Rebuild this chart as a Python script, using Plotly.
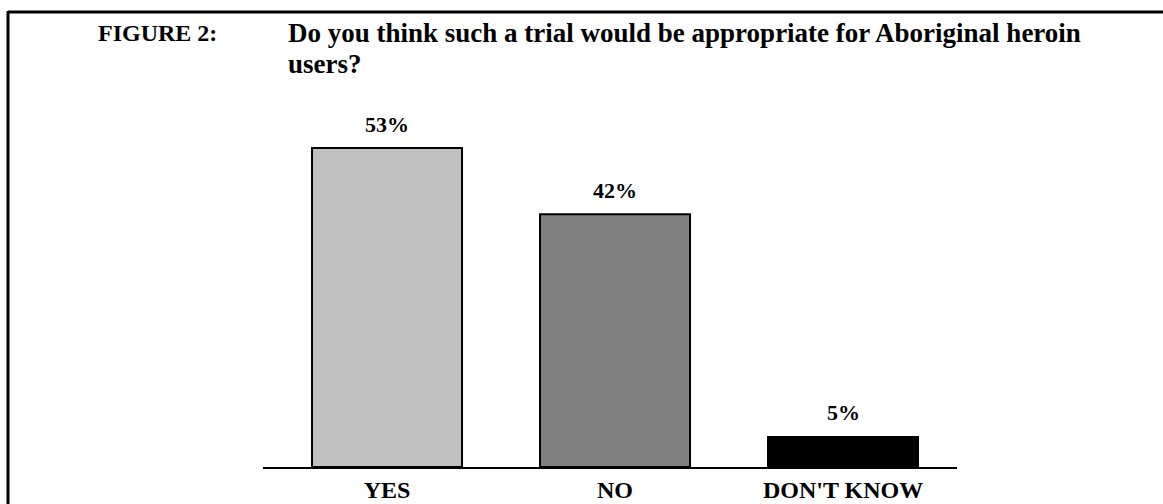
import plotly.graph_objects as go

categories = ["YES", "NO", "DON'T KNOW"]
values = [53, 42, 5]
bar_colors = ["#c0c0c0", "#808080", "#000000"]
value_labels = ["53%", "42%", "5%"]

W, H = 1163, 504
L, R, T, B = 263, 206, 106, 37
pw, ph = W - L - R, H - T - B

def px_x(px):
    return (px - L) / pw

def px_y(py):
    return (H - B - py) / ph

FONT = "Liberation Serif"

fig = go.Figure()
fig.add_trace(go.Bar(
    x=list(range(len(categories))),
    y=values,
    width=0.658,
    marker=dict(color=bar_colors, line=dict(color="black", width=2)),
    hoverinfo="skip",
))

for i, (v, lab) in enumerate(zip(values, value_labels)):
    fig.add_annotation(x=i, y=v, text=lab, showarrow=False, yshift=24,
                       font=dict(family=FONT, size=22, color="black", weight="bold"))

fig.add_annotation(xref="paper", yref="paper", x=px_x(96), y=px_y(33),
                   xanchor="left", yanchor="middle", showarrow=False,
                   text="FIGURE 2:", font=dict(family=FONT, size=24, color="black", weight="bold"))
fig.add_annotation(xref="paper", yref="paper", x=px_x(286), y=px_y(33),
                   xanchor="left", yanchor="middle", showarrow=False,
                   text="Do you think such a trial would be appropriate for Aboriginal heroin",
                   font=dict(family=FONT, size=27, color="black", weight="bold"))
fig.add_annotation(xref="paper", yref="paper", x=px_x(286), y=px_y(64),
                   xanchor="left", yanchor="middle", showarrow=False,
                   text="users?",
                   font=dict(family=FONT, size=27, color="black", weight="bold"))

# frame lines (top and left)
fig.add_shape(type="line", xref="paper", yref="paper",
              x0=px_x(8), x1=px_x(1170), y0=px_y(12), y1=px_y(12),
              line=dict(color="black", width=3))
fig.add_shape(type="line", xref="paper", yref="paper",
              x0=px_x(8), x1=px_x(8), y0=px_y(11), y1=px_y(510),
              line=dict(color="black", width=3))

fig.update_layout(
    width=W, height=H, autosize=False,
    margin=dict(l=L, r=R, t=T, b=B, pad=0, autoexpand=False),
    paper_bgcolor="white", plot_bgcolor="white",
    showlegend=False,
    font=dict(family=FONT, color="black"),
    xaxis=dict(range=[-0.544, 2.5], tickmode="array",
               tickvals=list(range(len(categories))), ticktext=categories,
               tickfont=dict(family=FONT, size=24, color="black", weight="bold"),
               showline=True, linecolor="black", linewidth=2, automargin=False,
               ticklabelstandoff=0,
               showgrid=False, zeroline=False, ticks="", ticklen=0),
    yaxis=dict(range=[0, 60], visible=False, showgrid=False, zeroline=False,
               automargin=False),
)

fig.write_html("out.html")
